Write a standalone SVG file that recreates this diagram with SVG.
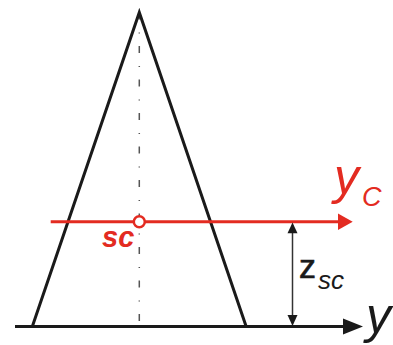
<svg xmlns="http://www.w3.org/2000/svg" width="393" height="345" viewBox="0 0 393 345">
<style>
.blk{stroke:#1a1a1a;stroke-width:3;fill:none}
.red{stroke:#e32b21;stroke-width:3;fill:none}
.t{font-family:"Liberation Sans",Arial,sans-serif;font-style:italic}
</style>
<rect width="393" height="345" fill="#fff"/>
<g id="centerline">
<line x1="139.3" y1="12.5" x2="139.3" y2="322" stroke="#555" stroke-width="1.5" stroke-dasharray="7 13 1 12.5"/>
</g>
<g id="section">
<polyline class="blk" points="32.5,326 139.3,12.5 246,326" stroke-linejoin="miter"/>
</g>
<g id="connectors">
<g id="axis-y">
<line class="blk" x1="15" y1="326.5" x2="345" y2="326.5"/>
<polygon points="343,318.5 363,326.5 343,334.5" fill="#1a1a1a"/>
</g>
<g id="axis-yc">
<line class="red" x1="50.7" y1="221.7" x2="340" y2="221.7"/>
<polygon points="338,213.4 352.7,221.7 338,230" fill="#e32b21"/>
</g>
<g id="dim-zsc">
<line x1="292.5" y1="230" x2="292.5" y2="318" stroke="#333" stroke-width="1.5"/>
<polygon points="287.5,233.3 292.5,222.5 297.5,233.3" fill="#1a1a1a"/>
<polygon points="287.5,315 292.5,326 297.5,315" fill="#1a1a1a"/>
</g>
</g>
<g id="sc-point">
<circle cx="139.3" cy="221.7" r="5.5" fill="#fff" stroke="#e32b21" stroke-width="2.5"/>
<text class="t" x="102" y="247" font-size="29" font-weight="bold" fill="#e32b21">sc</text>
</g>
<g id="label-yc">
<text class="t" x="334" y="194" font-size="50" fill="#e32b21">y<tspan x="362" y="206" font-size="27">C</tspan></text>
</g>
<g id="label-y">
<text class="t" x="366" y="333" font-size="50" fill="#1a1a1a">y</text>
</g>
<g id="label-zsc">
<text x="299" y="278" font-family="Liberation Sans,Arial,sans-serif" font-size="34" fill="#1a1a1a" stroke="#1a1a1a" stroke-width="0.6">z<tspan x="318" y="289" font-size="26" font-style="italic" stroke-width="0">sc</tspan></text>
</g>
</svg>
